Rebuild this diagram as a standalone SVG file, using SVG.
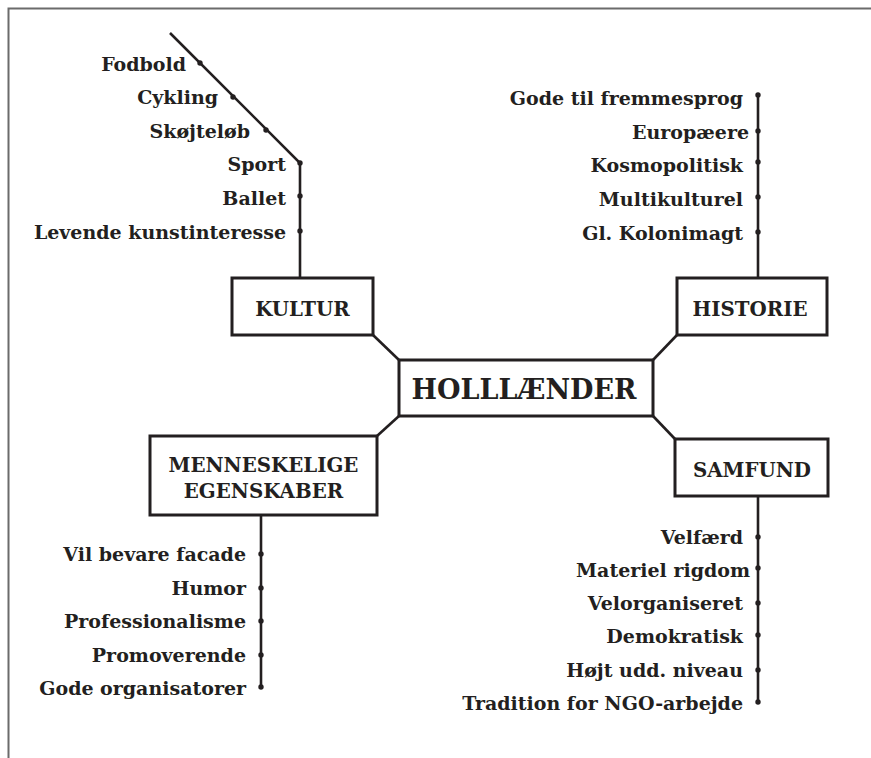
<svg xmlns="http://www.w3.org/2000/svg" width="871" height="758" viewBox="0 0 871 758">
<style>
  .leaf { font-family: "DejaVu Serif", "Liberation Serif", serif; font-weight: bold; font-size: 19px; fill: #231f20; text-anchor: end; }
  .lbl { font-family: "DejaVu Serif", "Liberation Serif", serif; font-weight: bold; font-size: 19.8px; fill: #231f20; text-anchor: middle; }
  .big { font-family: "DejaVu Serif", "Liberation Serif", serif; font-weight: bold; font-size: 27px; fill: #231f20; text-anchor: middle; }
  .box { fill: #fff; stroke: #231f20; stroke-width: 3; }
  .ln { stroke: #231f20; stroke-width: 2.6; fill: none; }
  .dot { fill: #231f20; }
  .frame { stroke: #6b6b6b; stroke-width: 2; fill: none; }
</style>
<rect width="871" height="758" fill="#fff"/>
<path class="frame" d="M8.5 758 V8.5 H871"/>

<g id="connectors">
  <path class="ln" d="M170 33 L300 163 V278"/>
  <path class="ln" d="M758 95 V278"/>
  <path class="ln" d="M261 515 V687"/>
  <path class="ln" d="M758 496 V702"/>
  <path class="ln" d="M373 335 L399 360"/>
  <path class="ln" d="M399 416 L377 436"/>
  <path class="ln" d="M653 360 L677 335"/>
  <path class="ln" d="M653 416 L675 439"/>
</g>

<g id="kultur-leaves">
  <circle class="dot" cx="200" cy="63" r="2.7"/>
  <circle class="dot" cx="233" cy="97" r="2.7"/>
  <circle class="dot" cx="266" cy="130" r="2.7"/>
  <circle class="dot" cx="300" cy="163" r="2.7"/>
  <circle class="dot" cx="300" cy="196" r="2.7"/>
  <circle class="dot" cx="300" cy="231" r="2.7"/>
  <text class="leaf" x="186" y="71">Fodbold</text>
  <text class="leaf" x="218" y="104">Cykling</text>
  <text class="leaf" x="250" y="138">Skøjteløb</text>
  <text class="leaf" x="286" y="171">Sport</text>
  <text class="leaf" x="286" y="205">Ballet</text>
  <text class="leaf" x="286" y="239">Levende kunstinteresse</text>
</g>

<g id="historie-leaves">
  <circle class="dot" cx="758" cy="95" r="2.7"/>
  <circle class="dot" cx="758" cy="131" r="2.7"/>
  <circle class="dot" cx="758" cy="162" r="2.7"/>
  <circle class="dot" cx="758" cy="197" r="2.7"/>
  <circle class="dot" cx="758" cy="232" r="2.7"/>
  <text class="leaf" x="743" y="105">Gode til fremmesprog</text>
  <text class="leaf" x="749" y="139">Europæere</text>
  <text class="leaf" x="743" y="172">Kosmopolitisk</text>
  <text class="leaf" x="743" y="206">Multikulturel</text>
  <text class="leaf" x="743" y="240">Gl. Kolonimagt</text>
</g>

<g id="menneskelige-leaves">
  <circle class="dot" cx="261" cy="554" r="2.7"/>
  <circle class="dot" cx="261" cy="588" r="2.7"/>
  <circle class="dot" cx="261" cy="621" r="2.7"/>
  <circle class="dot" cx="261" cy="655" r="2.7"/>
  <circle class="dot" cx="261" cy="687" r="2.7"/>
  <text class="leaf" x="246" y="561">Vil bevare facade</text>
  <text class="leaf" x="246" y="595">Humor</text>
  <text class="leaf" x="246" y="628">Professionalisme</text>
  <text class="leaf" x="246" y="662">Promoverende</text>
  <text class="leaf" x="246" y="695">Gode organisatorer</text>
</g>

<g id="samfund-leaves">
  <circle class="dot" cx="758" cy="537" r="2.7"/>
  <circle class="dot" cx="758" cy="568" r="2.7"/>
  <circle class="dot" cx="758" cy="603" r="2.7"/>
  <circle class="dot" cx="758" cy="635" r="2.7"/>
  <circle class="dot" cx="758" cy="670" r="2.7"/>
  <circle class="dot" cx="758" cy="702" r="2.7"/>
  <text class="leaf" x="743" y="544">Velfærd</text>
  <text class="leaf" x="750" y="577">Materiel rigdom</text>
  <text class="leaf" x="743" y="610">Velorganiseret</text>
  <text class="leaf" x="743" y="643">Demokratisk</text>
  <text class="leaf" x="743" y="677">Højt udd. niveau</text>
  <text class="leaf" x="743" y="710">Tradition for NGO-arbejde</text>
</g>

<g id="kultur">
  <rect class="box" x="232" y="278" width="141" height="57"/>
  <text class="lbl" x="302.5" y="316">KULTUR</text>
</g>
<g id="historie">
  <rect class="box" x="677" y="278" width="150" height="57"/>
  <text class="lbl" x="750" y="316">HISTORIE</text>
</g>
<g id="hollaender">
  <rect class="box" x="399" y="360" width="254" height="56"/>
  <text class="big" x="524" y="399">HOLLLÆNDER</text>
</g>
<g id="menneskelige">
  <rect class="box" x="150" y="436" width="227" height="79"/>
  <text class="lbl" x="263.5" y="472">MENNESKELIGE</text>
  <text class="lbl" x="263.5" y="498">EGENSKABER</text>
</g>
<g id="samfund">
  <rect class="box" x="675" y="439" width="153" height="57"/>
  <text class="lbl" x="752" y="477">SAMFUND</text>
</g>
</svg>
